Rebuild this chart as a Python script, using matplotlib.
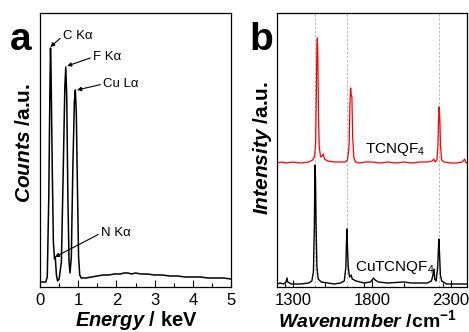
import matplotlib
matplotlib.use("Agg")
import matplotlib.pyplot as plt
from matplotlib.ticker import MultipleLocator

plt.rcParams['font.family'] = ['Liberation Sans', 'DejaVu Sans']
plt.rcParams['mathtext.fontset'] = 'custom'
plt.rcParams['mathtext.it'] = 'Liberation Sans:italic:bold'
plt.rcParams['mathtext.rm'] = 'Liberation Sans:bold'

# ---- panel a: EDS spectrum (energy in keV, counts in arbitrary units)
energy = [0.0, 0.08, 0.15, 0.19, 0.23, 0.26, 0.275, 0.29, 0.32, 0.35, 0.38, 0.40,
          0.43, 0.46, 0.50, 0.56, 0.61, 0.65, 0.675, 0.70, 0.73, 0.76, 0.785,
          0.82, 0.86, 0.90, 0.925, 0.95, 0.98, 1.01, 1.04, 1.08, 1.2, 1.35,
          1.5, 1.65, 1.8, 1.95, 2.1, 2.2, 2.3, 2.4, 2.5, 2.65, 2.8, 3.0, 3.2,
          3.4, 3.6, 3.8, 4.0, 4.2, 4.4, 4.6, 4.8, 5.0]
counts = [5, 5, 5, 10, 90, 200, 239, 215, 120, 45, 28, 30,
          12, 6, 8, 25, 120, 200, 220, 190, 90, 25, 14,
          30, 120, 185, 197, 175, 100, 30, 12, 9, 9, 10,
          11, 12, 12, 13, 13, 14, 14, 13, 14, 13, 13, 12, 12,
          11, 11, 10, 10, 10, 9, 9, 9, 8]

# peak labels: (text, text x, text y, arrow x, arrow y)
eds_labels = ["C K\u03b1", "F K\u03b1", "Cu L\u03b1", "N K\u03b1"]
eds_text_xy = [(0.60, 251), (1.39, 230), (1.65, 203), (1.60, 54)]
eds_arrow_xy = [(0.27, 240), (0.71, 221), (0.97, 197), (0.39, 30)]

# ---- panel b: Raman spectra
wn_red = [1200, 1230, 1260, 1300, 1350, 1400, 1425, 1438, 1444, 1448, 1452, 1455,
          1458, 1462, 1467, 1475, 1485, 1492, 1500, 1520, 1560, 1600, 1630, 1645,
          1655, 1661, 1665, 1669, 1673, 1678, 1685, 1695, 1720, 1760, 1800, 1850,
          1900, 1950, 2000, 2050, 2100, 2150, 2180, 2190, 2198, 2210, 2216, 2220,
          2224, 2228, 2233, 2240, 2255, 2300, 2340, 2370, 2385, 2390, 2400]
int_red = [124, 125, 124, 125, 124, 125, 127, 131, 145, 190, 240, 249,
           230, 170, 140, 130, 131, 133, 128, 126, 125, 125, 125, 127,
           140, 185, 199, 192, 190, 150, 130, 125, 124, 125, 125, 124,
           125, 124, 125, 124, 125, 125, 126, 128, 125, 127, 140, 165,
           180, 170, 140, 127, 125, 124, 124, 125, 128, 125, 124]

wn_black = [1200, 1220, 1240, 1258, 1263, 1268, 1290, 1350, 1400, 1420, 1430, 1436,
            1440, 1443, 1447, 1452, 1460, 1480, 1520, 1560, 1600, 1625, 1635, 1641,
            1645, 1650, 1658, 1668, 1675, 1700, 1750, 1790, 1810, 1820, 1840, 1900,
            2000, 2050, 2100, 2150, 2175, 2185, 2192, 2196, 2205, 2215, 2222, 2226,
            2232, 2240, 2270, 2300, 2350, 2400]
int_black = [3, 4, 3, 5, 9, 5, 3, 3, 4, 6, 15, 60,
             122, 110, 60, 20, 8, 5, 4, 3, 4, 6, 20, 58,
             40, 20, 10, 12, 8, 6, 4, 5, 9, 7, 5, 4,
             5, 4, 4, 4, 6, 12, 18, 8, 6, 20, 48, 35,
             12, 6, 3, 3, 3, 3]

guide_lines = [1440, 1645, 2225]

fig = plt.figure(figsize=(4.69, 3.32), dpi=100)
ax1 = fig.add_axes([40 / 469, 45 / 332, 191 / 469, 274 / 332])
ax2 = fig.add_axes([277 / 469, 45 / 332, 190 / 469, 274 / 332])

ax1.plot(energy, counts, color='black', lw=1.1)
ax1.set_xlim(0, 5)
ax1.set_ylim(0, 274)
ax1.xaxis.set_major_locator(MultipleLocator(1))
ax1.xaxis.set_minor_locator(MultipleLocator(0.5))
for lab, txy, axy in zip(eds_labels, eds_text_xy, eds_arrow_xy):
    ax1.annotate(lab, xy=axy, xytext=txy, fontsize=9.5, va='center', ha='left',
                 arrowprops=dict(arrowstyle='-|>', color='black', lw=0.8,
                                 mutation_scale=6, shrinkA=0, shrinkB=0,
                                 relpos=(0, 0.5)))

for g in guide_lines:
    ax2.axvline(g, color='#b0b0b0', lw=0.6, ls=(0, (3, 2)), zorder=0)
ax2.plot(wn_red, int_red, color='#ff0000', lw=0.9)
ax2.plot(wn_black, int_black, color='black', lw=1.0)
ax2.set_xlim(1200, 2400)
ax2.set_ylim(0, 274)
ax2.set_xticks([1300, 1800, 2300])
ax2.xaxis.set_minor_locator(MultipleLocator(250))
ax2.text(1756, 137, r"TCNQF$_\mathregular{4}$", fontsize=11, va='center')
ax2.text(1693, 20, r"CuTCNQF$_\mathregular{4}$", fontsize=11, va='center')

for ax in (ax1, ax2):
    ax.set_yticks([])
    ax.tick_params(axis='x', which='both', direction='in', labelsize=12, pad=4)
    ax.tick_params(axis='x', which='major', length=5, width=0.8)
    ax.tick_params(axis='x', which='minor', length=3, width=0.8)
    for s in ax.spines.values():
        s.set_linewidth(0.9)

fig.text(21 / 469, 1 - 40 / 332, "a", fontsize=28, fontweight='bold', ha='center', va='center')
fig.text(261 / 469, 1 - 40 / 332, "b", fontsize=28, fontweight='bold', ha='center', va='center')

fig.text(24 / 469, 1 - 143 / 332, r"$\it{Counts}$ /a.u.", fontsize=15, fontweight='bold',
         rotation=90, ha='center', va='center')
fig.text(262 / 469, 1 - 148 / 332, r"$\it{Intensity}$ /a.u.", fontsize=15, fontweight='bold',
         rotation=90, ha='center', va='center')
fig.text(136 / 469, 1 - 320 / 332, r"$\it{Energy}$ / keV", fontsize=14.5, fontweight='bold',
         ha='center', va='center')
fig.text(278 / 469, 1 - 320 / 332, r"$\it{Wavenumber}$ /cm$^{\mathregular{-1}}$", fontsize=14,
         fontweight='bold', ha='left', va='center')

fig.savefig("out.png", dpi=100)
